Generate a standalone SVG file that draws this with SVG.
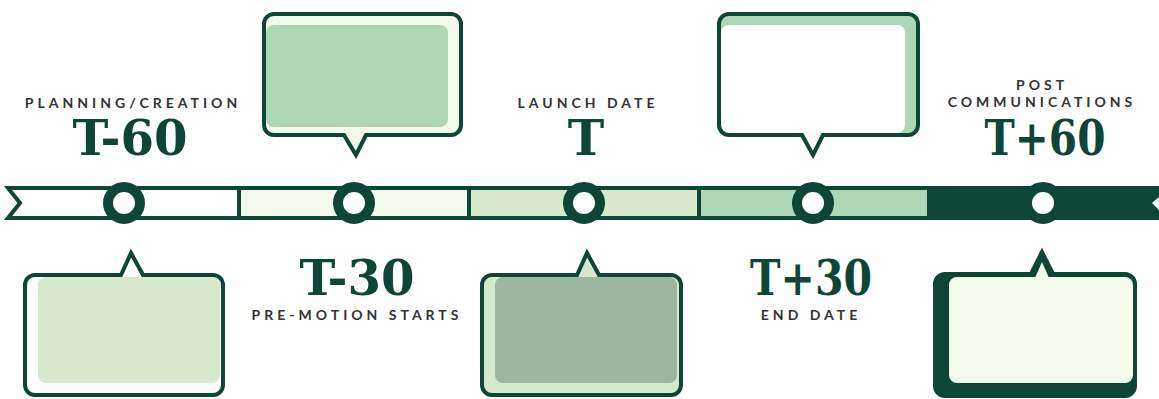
<svg xmlns="http://www.w3.org/2000/svg" width="1159" height="399" viewBox="0 0 1159 399">
<style>
.st{fill:none;stroke:#0d4637;stroke-width:4;stroke-linejoin:miter;stroke-miterlimit:10}
.seg{stroke:#0d4637;stroke-width:4}
.dot{fill:#fff;stroke:#0d4637;stroke-width:10}
.lbl{font-family:Lato,"Liberation Sans",sans-serif;font-weight:bold;font-size:14px;letter-spacing:4px;fill:#333;text-anchor:middle}
.big{font-family:"DejaVu Serif","Liberation Serif",serif;font-weight:bold;font-size:49px;fill:#0d4637;text-anchor:middle}
</style>
<rect width="1159" height="399" fill="#fff"/>
<g id="connectors">
<polygon class="seg" points="8,188 239,188 239,218 8,218 20,203" fill="#fff"/>
<rect class="seg" x="239" y="188" width="230" height="30" fill="#f3faec"/>
<rect class="seg" x="469" y="188" width="230" height="30" fill="#d6e9cc"/>
<rect class="seg" x="699" y="188" width="230" height="30" fill="#aed8b5"/>
<polygon points="927,186 1159,186 1159,197 1152,203 1159,210 1159,220 927,220" fill="#0d4637"/>
</g>
<g id="m1"><circle class="dot" cx="124" cy="203" r="16"/></g>
<g id="m2"><circle class="dot" cx="354" cy="203" r="16"/></g>
<g id="m3"><circle class="dot" cx="584" cy="203" r="16"/></g>
<g id="m4"><circle class="dot" cx="813" cy="203" r="16"/></g>
<g id="m5"><circle class="dot" cx="1043" cy="203" r="16"/></g>

<g id="b1">
<path d="M35,275 L121,275 L131,253 L143,275 L213,275 A10,10 0 0 1 223,285 L223,385 A10,10 0 0 1 213,395 L35,395 A10,10 0 0 1 25,385 L25,285 A10,10 0 0 1 35,275 Z" fill="#fff"/>
<rect x="38" y="277" width="182" height="106" rx="8" fill="#d6e9cc"/>
<path class="st" d="M35,275 L121,275 L131,253 L143,275 L213,275 A10,10 0 0 1 223,285 L223,385 A10,10 0 0 1 213,395 L35,395 A10,10 0 0 1 25,385 L25,285 A10,10 0 0 1 35,275 Z"/>
</g>
<g id="b2">
<path d="M274,14 L451,14 A10,10 0 0 1 461,24 L461,125 A10,10 0 0 1 451,135 L366,135 L356,155 L344,135 L274,135 A10,10 0 0 1 264,125 L264,24 A10,10 0 0 1 274,14 Z" fill="#f3faec"/>
<rect x="266" y="25" width="182" height="102" rx="8" fill="#aed8b5"/>
<path class="st" d="M274,14 L451,14 A10,10 0 0 1 461,24 L461,125 A10,10 0 0 1 451,135 L366,135 L356,155 L344,135 L274,135 A10,10 0 0 1 264,125 L264,24 A10,10 0 0 1 274,14 Z"/>
</g>
<g id="b3">
<path d="M492,275 L577,275 L587,253 L599,275 L671,275 A10,10 0 0 1 681,285 L681,385 A10,10 0 0 1 671,395 L492,395 A10,10 0 0 1 482,385 L482,285 A10,10 0 0 1 492,275 Z" fill="#d6e9cc"/>
<rect x="495" y="277" width="182" height="106" rx="8" fill="#9bb89f"/>
<path class="st" d="M492,275 L577,275 L587,253 L599,275 L671,275 A10,10 0 0 1 681,285 L681,385 A10,10 0 0 1 671,395 L492,395 A10,10 0 0 1 482,385 L482,285 A10,10 0 0 1 492,275 Z"/>
</g>
<g id="b4">
<path d="M729,14 L908,14 A10,10 0 0 1 918,24 L918,125 A10,10 0 0 1 908,135 L823,135 L813,155 L802,135 L729,135 A10,10 0 0 1 719,125 L719,24 A10,10 0 0 1 729,14 Z" fill="#aed8b5"/>
<rect x="721" y="25" width="184" height="108" rx="8" fill="#fff"/>
<polygon points="802,130 823,130 813,152" fill="#fff"/>
<path class="st" d="M729,14 L908,14 A10,10 0 0 1 918,24 L918,125 A10,10 0 0 1 908,135 L823,135 L813,155 L802,135 L729,135 A10,10 0 0 1 719,125 L719,24 A10,10 0 0 1 729,14 Z"/>
</g>
<g id="b5">
<path d="M945,274 L1031,274 L1042,252 L1053,274 L1125,274 A10,10 0 0 1 1135,284 L1135,386 A10,10 0 0 1 1125,396 L945,396 A10,10 0 0 1 935,386 L935,284 A10,10 0 0 1 945,274 Z" fill="#0d4637" stroke="#0d4637" stroke-width="4"/>
<rect x="949" y="277" width="184" height="106" rx="8" fill="#f3faec"/>
<polygon points="1034.5,279 1042,262 1049.5,279" fill="#f3faec"/>
</g>

<g id="t1">
<text class="lbl" x="133" y="108">PLANNING/CREATION</text>
<text class="big" x="130" y="155" textLength="115" lengthAdjust="spacingAndGlyphs">T-60</text>
</g>
<g id="t2">
<text class="big" x="357" y="295" textLength="115" lengthAdjust="spacingAndGlyphs">T-30</text>
<text class="lbl" x="357" y="320">PRE-MOTION STARTS</text>
</g>
<g id="t3">
<text class="lbl" x="588" y="108">LAUNCH DATE</text>
<text class="big" x="586" y="155">T</text>
</g>
<g id="t4">
<text class="big" x="811" y="295" textLength="122" lengthAdjust="spacingAndGlyphs">T+30</text>
<text class="lbl" x="811" y="320">END DATE</text>
</g>
<g id="t5">
<text class="lbl" x="1042" y="90">POST</text>
<text class="lbl" x="1042" y="107">COMMUNICATIONS</text>
<text class="big" x="1045" y="155" textLength="121" lengthAdjust="spacingAndGlyphs">T+60</text>
</g>
</svg>
